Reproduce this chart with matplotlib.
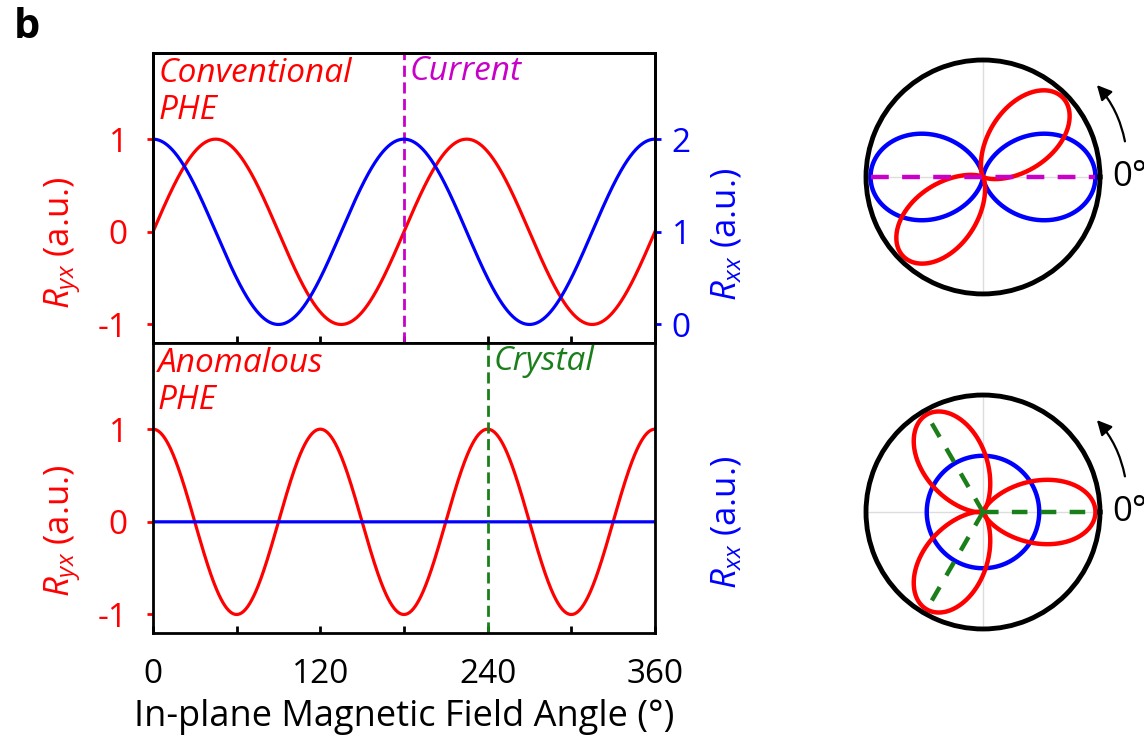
import numpy as np
import matplotlib.pyplot as plt

plt.rcParams['font.family'] = ['Open Sans', 'DejaVu Sans']
plt.rcParams['mathtext.fontset'] = 'custom'
plt.rcParams['mathtext.it'] = 'Open Sans:italic'
plt.rcParams['mathtext.rm'] = 'Open Sans'

# axis ticks
x_ticks = [0, 120, 240, 360]
x_minor = [60, 180, 300]
ryx_ticks = [-1, 0, 1]
rxx_ticks = [0, 1, 2]

# conventional PHE: Ryx ~ sin(2a), Rxx ~ 1 + cos(2a)
conv_fold = 2
conv_ryx_amp = 1.0
conv_rxx_amp = 1.0
conv_rxx_offset = 1.0
current_angle = 180
conv_ryx_lobes = [45, 225]     # directions of the red lobes in the polar sketch

# anomalous PHE: Ryx ~ cos(3a), Rxx flat
anom_fold = 3
anom_ryx_amp = 1.0
anom_rxx_level = 0.0
crystal_angle = 240
crystal_axes = [0, 120, 240]   # red lobes / dashed crystal axes in the polar sketch
polar_rxx_radius = 0.5
lobe_power = 4                  # lobe sharpness of the red polar lobes

RED = '#ff0000'
BLUE = '#0000ff'
MAG = '#c800c8'
GRN = '#1a7f1a'

ang = np.linspace(0, 360, 1441)
rad = np.deg2rad(ang)

fig = plt.figure(figsize=(11.44, 7.45), dpi=100)

def style_axes(ax):
    for s in ax.spines.values():
        s.set_linewidth(2)

# ---- top panel
ax1 = fig.add_axes([0.1337, 0.5396, 0.4388, 0.3893])
ax1.plot(ang, conv_ryx_amp * np.sin(conv_fold * rad), color=RED, lw=2.3)
ax1.axvline(current_angle, color=MAG, ls='--', lw=2, dashes=(4, 2))
ax1.set_xlim(0, 360)
ax1.set_ylim(-1.2, 1.93)
ax1.set_yticks(ryx_ticks)
ax1.set_yticklabels(['-1', '0', '1'])
ax1.set_xticks(x_ticks)
ax1.set_xticks(x_minor, minor=True)
ax1.tick_params(axis='x', which='both', direction='in', length=5, width=2, labelbottom=False)
ax1.tick_params(axis='y', direction='out', length=4, width=2, labelsize=24, colors=RED, pad=14)
style_axes(ax1)
ax1.text(0.012, 0.985, 'Conventional\nPHE', transform=ax1.transAxes, ha='left', va='top',
         color=RED, fontsize=24, style='italic', linespacing=1.15)
ax1.text(current_angle + 4, 1.91, 'Current', ha='left', va='top',
         color=MAG, fontsize=24, style='italic')
ax1.text(-0.179, 0.345, r'$R_{yx}$ (a.u.)', transform=ax1.transAxes, rotation=90,
         ha='center', va='center', color=RED, fontsize=25)

ax1r = ax1.twinx()
ax1r.plot(ang, conv_rxx_offset + conv_rxx_amp * np.cos(conv_fold * rad), color=BLUE, lw=2.3)
ax1r.set_ylim(-0.2, 2.93)
ax1r.set_yticks(rxx_ticks)
ax1r.tick_params(axis='y', direction='out', length=4, width=2, labelsize=24, colors=BLUE, pad=8)
style_axes(ax1r)
ax1r.text(1.143, 0.376, r'$R_{xx}$ (a.u.)', transform=ax1r.transAxes, rotation=90,
          ha='center', va='center', color=BLUE, fontsize=25)

# ---- bottom panel
ax2 = fig.add_axes([0.1337, 0.1503, 0.4388, 0.3893])
ax2.plot(ang, anom_ryx_amp * np.cos(anom_fold * rad), color=RED, lw=2.3)
ax2.plot(ang, np.full_like(ang, anom_rxx_level), color=BLUE, lw=2.3)
ax2.axvline(crystal_angle, color=GRN, ls='--', lw=2, dashes=(4, 2))
ax2.set_xlim(0, 360)
ax2.set_ylim(-1.2, 1.93)
ax2.set_yticks(ryx_ticks)
ax2.set_yticklabels(['-1', '0', '1'])
ax2.set_xticks(x_ticks)
ax2.set_xticks(x_minor, minor=True)
ax2.tick_params(axis='x', which='both', direction='in', length=5, width=2, labelsize=24, pad=18)
ax2.tick_params(axis='y', direction='out', length=4, width=2, labelsize=24, colors=RED, pad=14)
style_axes(ax2)
ax2.set_xlabel('In-plane Magnetic Field Angle (°)', fontsize=26, labelpad=6)
ax2.text(0.01, 0.985, 'Anomalous\nPHE', transform=ax2.transAxes, ha='left', va='top',
         color=RED, fontsize=24, style='italic', linespacing=1.15)
ax2.text(crystal_angle + 4, 1.91, 'Crystal', ha='left', va='top',
         color=GRN, fontsize=24, style='italic')
ax2.text(-0.179, 0.352, r'$R_{yx}$ (a.u.)', transform=ax2.transAxes, rotation=90,
         ha='center', va='center', color=RED, fontsize=25)
ax2.text(1.143, 0.383, r'$R_{xx}$ (a.u.)', transform=ax2.transAxes, rotation=90,
         ha='center', va='center', color=BLUE, fontsize=25)

fig.text(0.012, 0.99, 'b', fontsize=30, fontweight='bold', ha='left', va='top')

# ---- polar sketches
def polar_frame(rect):
    p = fig.add_axes(rect, projection='polar')
    p.set_ylim(0, 1.04)
    p.set_yticks([])
    p.set_xticks(np.deg2rad([0, 90, 180, 270]))
    p.set_xticklabels([])
    p.grid(color='#dddddd', lw=1)
    p.spines['polar'].set_linewidth(3.5)
    p.annotate('', xy=(np.deg2rad(40), 1.3), xytext=(np.deg2rad(13), 1.3),
               arrowprops=dict(arrowstyle='-|>', color='black', lw=1.6,
                               connectionstyle='arc3,rad=0.15', mutation_scale=22),
               annotation_clip=False)
    p.text(0, 1.15, '0°', ha='left', va='center', fontsize=25, clip_on=False)
    return p

def lobe(p, direction):
    d = np.deg2rad(direction)
    psi = np.linspace(-np.pi / 2, np.pi / 2, 361)
    p.plot(d + psi, np.cos(psi) ** lobe_power, color=RED, lw=3.2)

p1 = polar_frame([0.757, 0.6054, 0.2045, 0.3141])
p1.plot(rad, (conv_rxx_offset + conv_rxx_amp * np.cos(conv_fold * rad)) / 2, color=BLUE, lw=3.2)
for a in conv_ryx_lobes:
    lobe(p1, a)
cur = np.deg2rad(current_angle)
p1.plot([cur, cur, 0, 0], [1.0, 0, 0, 1.0], color=MAG, ls='--', lw=3.2, dashes=(4, 3))

p2 = polar_frame([0.757, 0.1557, 0.2045, 0.3141])
p2.plot(rad, np.full_like(rad, polar_rxx_radius), color=BLUE, lw=3.2)
for a in crystal_axes:
    lobe(p2, a)
for a in crystal_axes:
    t = np.deg2rad(a)
    p2.plot([t, t], [0, 1.0], color=GRN, ls='--', lw=3.2, dashes=(3.5, 3))

fig.savefig('out.png', dpi=100)
